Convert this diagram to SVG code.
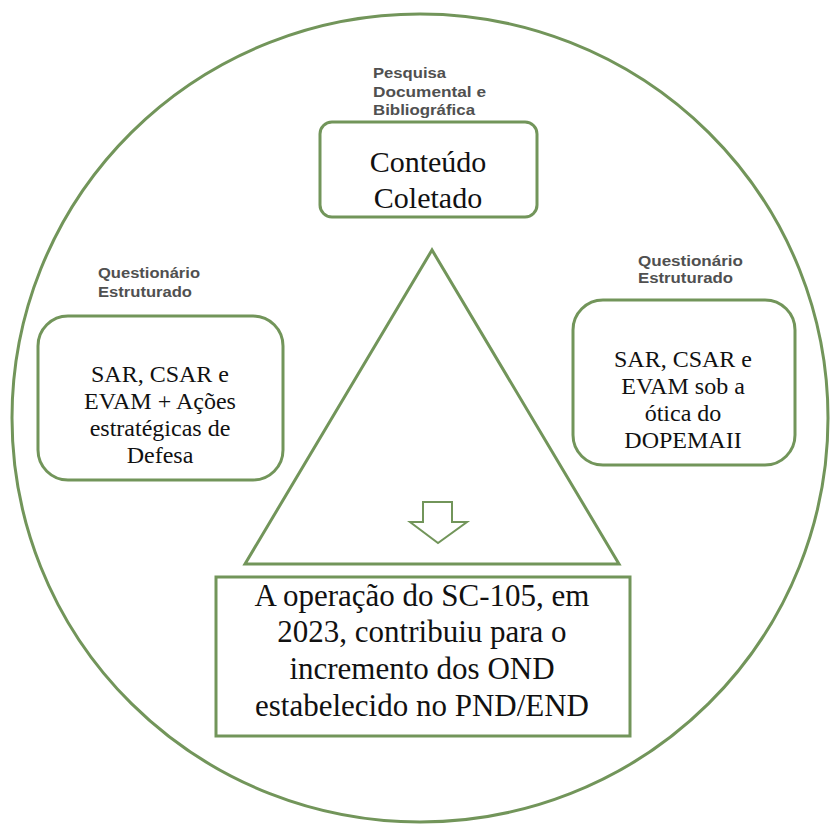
<svg xmlns="http://www.w3.org/2000/svg" width="830" height="825" viewBox="0 0 830 825">
<style>
.ln{fill:none;stroke:#72955a;stroke-width:3}
.bx{fill:#fff;stroke:#72955a;stroke-width:3}
.lbl{font-family:"Liberation Sans",Arial,sans-serif;font-weight:bold;font-size:14px;fill:#505050}
.t{font-family:"Liberation Serif","Times New Roman",serif;fill:#111;text-anchor:middle}
</style>
<rect width="830" height="825" fill="#fff"/>
<g id="circle"><ellipse class="ln" cx="420" cy="418" rx="408" ry="404"/></g>
<g id="connectors">
<polygon class="ln" points="432,250 245,564 619,564"/>
<path d="M423,502 H452 V522 H467 L438,543 L410,522 H423 Z" fill="#fff" stroke="#72955a" stroke-width="2"/>
</g>
<g id="top">
<text class="lbl" x="373" y="78" textLength="73" lengthAdjust="spacingAndGlyphs">Pesquisa</text>
<text class="lbl" x="373" y="97" textLength="113" lengthAdjust="spacingAndGlyphs">Documental e</text>
<text class="lbl" x="373" y="115" textLength="102" lengthAdjust="spacingAndGlyphs">Bibliográfica</text>
<rect class="bx" x="320" y="122" width="217" height="95" rx="12"/>
<text class="t" x="428" y="172" font-size="30">Conteúdo</text>
<text class="t" x="428" y="208" font-size="30">Coletado</text>
</g>
<g id="left">
<text class="lbl" x="98" y="278" textLength="102" lengthAdjust="spacingAndGlyphs">Questionário</text>
<text class="lbl" x="98" y="297" textLength="94" lengthAdjust="spacingAndGlyphs">Estruturado</text>
<rect class="bx" x="38" y="316" width="245" height="164" rx="30"/>
<text class="t" x="160" y="382" font-size="24">SAR, CSAR e</text>
<text class="t" x="160" y="409" font-size="24">EVAM + Ações</text>
<text class="t" x="160" y="436" font-size="24">estratégicas de</text>
<text class="t" x="160" y="463" font-size="24">Defesa</text>
</g>
<g id="right">
<text class="lbl" x="638" y="266" textLength="105" lengthAdjust="spacingAndGlyphs">Questionário</text>
<text class="lbl" x="638" y="283" textLength="95" lengthAdjust="spacingAndGlyphs">Estruturado</text>
<rect class="bx" x="573" y="300" width="222" height="165" rx="30"/>
<text class="t" x="683" y="367" font-size="24">SAR, CSAR e</text>
<text class="t" x="683" y="394" font-size="24">EVAM sob a</text>
<text class="t" x="683" y="421" font-size="24">ótica do</text>
<text class="t" x="683" y="448" font-size="24">DOPEMAII</text>
</g>
<g id="bottom">
<rect class="bx" x="216" y="577" width="414" height="159"/>
<text class="t" x="422" y="606" font-size="31">A operação do SC-105, em</text>
<text class="t" x="422" y="642" font-size="31">2023, contribuiu para o</text>
<text class="t" x="422" y="679" font-size="31">incremento dos OND</text>
<text class="t" x="422" y="716" font-size="31">estabelecido no PND/END</text>
</g>
</svg>
